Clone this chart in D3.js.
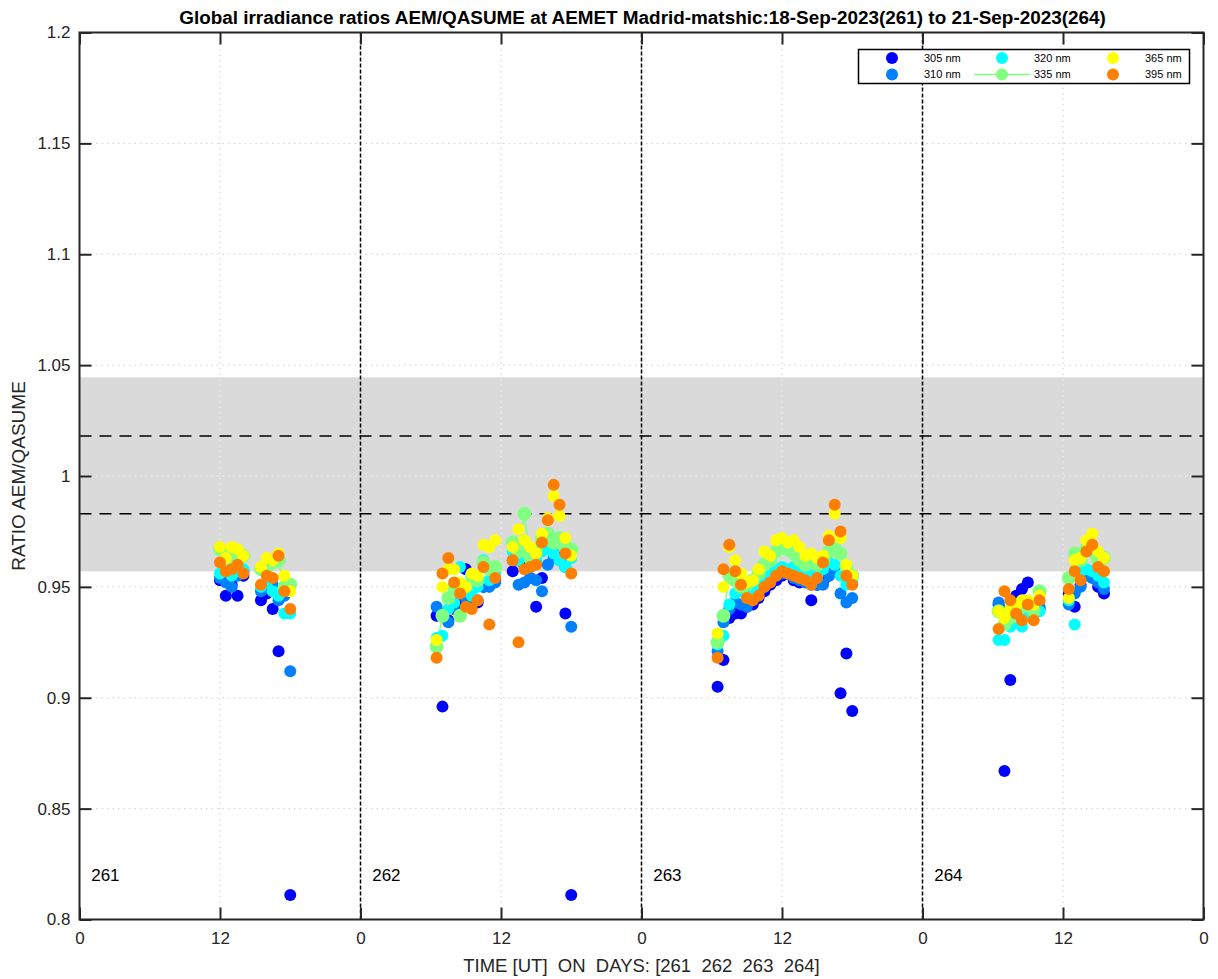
<!DOCTYPE html>
<html>
<head>
<meta charset="utf-8">
<script src="https://cdn.jsdelivr.net/npm/d3@7"></script>
<style>
  body { margin: 0; background: #fff; }
  text { font-family: "Liberation Sans", Arial, sans-serif; }
</style>
</head>
<body>
<div id="chart"></div>
<script>
// day numbers and measurement times (UT hours) of each day
const days = [261, 262, 263, 264]
const t261 = [12.0, 12.5, 13.0, 13.5, 14.0, 15.5, 16.0, 16.5, 17.0, 17.5, 18.0]
const t262 = [6.5, 7.0, 7.5, 8.0, 8.5, 9.0, 9.5, 10.0, 10.5, 11.0, 11.5, 13.0, 13.5, 14.0, 14.5, 15.0, 15.5, 16.0, 16.5, 17.0, 17.5, 18.0]
const t263 = [6.5, 7.0, 7.5, 8.0, 8.5, 9.0, 9.5, 10.0, 10.5, 11.0, 11.5, 12.0, 12.5, 13.0, 13.5, 14.0, 14.5, 15.0, 15.5, 16.0, 16.5, 17.0, 17.5, 18.0]
const t264 = [6.5, 7.0, 7.5, 8.0, 8.5, 9.0, 9.5, 10.0, 12.5, 13.0, 13.5, 14.0, 14.5, 15.0, 15.5]
const times = [t261, t262, t263, t264]

// ratios per wavelength, one list per day
const r305 = [
    [0.953, 0.946, 0.951, 0.946, 0.955, 0.944, 0.947, 0.940, 0.921, 0.948, 0.811],
    [0.937, 0.896, 0.935, 0.940, 0.944, 0.958, 0.942, 0.943, 0.950, 0.951, 0.953, 0.957, 0.962, 0.960, 0.954, 0.941, 0.954, 0.969, 0.965, 0.963, 0.938, 0.811],
    [0.905, 0.917, 0.936, 0.938, 0.938, 0.941, 0.942, 0.945, 0.948, 0.951, 0.953, 0.955, 0.956, 0.953, 0.952, 0.953, 0.944, 0.951, 0.952, 0.955, 0.958, 0.902, 0.920, 0.894],
    [0.942, 0.867, 0.908, 0.946, 0.949, 0.952, 0.941, 0.940, 0.947, 0.941, 0.951, 0.956, 0.955, 0.950, 0.947]
]
const r310 = [
    [0.954, 0.952, 0.950, 0.955, 0.957, 0.948, 0.950, 0.951, 0.944, 0.946, 0.912],
    [0.941, 0.938, 0.934, 0.942, 0.938, 0.945, 0.942, 0.944, 0.950, 0.950, 0.952, 0.962, 0.951, 0.952, 0.954, 0.953, 0.948, 0.960, 0.963, 0.962, 0.959, 0.932],
    [0.921, 0.934, 0.940, 0.943, 0.942, 0.941, 0.944, 0.947, 0.950, 0.953, 0.955, 0.956, 0.957, 0.954, 0.953, 0.952, 0.951, 0.951, 0.951, 0.955, 0.957, 0.947, 0.943, 0.945],
    [0.943, 0.939, 0.937, 0.938, 0.937, 0.940, 0.939, 0.941, 0.942, 0.947, 0.950, 0.955, 0.954, 0.952, 0.949]
]
const r320 = [
    [0.956, 0.958, 0.955, 0.957, 0.958, 0.950, 0.952, 0.948, 0.946, 0.938, 0.938],
    [0.927, 0.928, 0.940, 0.943, 0.959, 0.948, 0.946, 0.950, 0.962, 0.953, 0.956, 0.966, 0.962, 0.964, 0.962, 0.962, 0.966, 0.967, 0.965, 0.962, 0.959, 0.963],
    [0.924, 0.928, 0.942, 0.947, 0.948, 0.946, 0.949, 0.952, 0.954, 0.956, 0.958, 0.959, 0.958, 0.959, 0.957, 0.958, 0.956, 0.957, 0.958, 0.961, 0.960, 0.955, 0.951, 0.952],
    [0.926, 0.926, 0.932, 0.935, 0.932, 0.937, 0.938, 0.939, 0.944, 0.933, 0.957, 0.958, 0.957, 0.955, 0.952]
]
const r335 = [
    [0.967, 0.960, 0.963, 0.962, 0.964, 0.958, 0.959, 0.961, 0.962, 0.950, 0.951],
    [0.923, 0.937, 0.945, 0.950, 0.937, 0.950, 0.955, 0.953, 0.961, 0.958, 0.959, 0.970, 0.966, 0.983, 0.963, 0.967, 0.972, 0.974, 0.970, 0.972, 0.968, 0.967],
    [0.925, 0.937, 0.955, 0.953, 0.950, 0.951, 0.953, 0.956, 0.960, 0.962, 0.966, 0.968, 0.967, 0.965, 0.962, 0.960, 0.961, 0.960, 0.962, 0.966, 0.967, 0.965, 0.959, 0.955],
    [0.939, 0.933, 0.936, 0.940, 0.941, 0.942, 0.939, 0.948, 0.954, 0.965, 0.962, 0.967, 0.966, 0.962, 0.963]
]
const r365 = [
    [0.968, 0.963, 0.968, 0.967, 0.964, 0.959, 0.963, 0.962, 0.965, 0.955, 0.948],
    [0.926, 0.950, 0.958, 0.958, 0.952, 0.950, 0.956, 0.955, 0.969, 0.968, 0.971, 0.968, 0.976, 0.971, 0.968, 0.965, 0.974, 0.981, 0.991, 0.982, 0.972, 0.964],
    [0.929, 0.950, 0.968, 0.962, 0.956, 0.952, 0.953, 0.958, 0.966, 0.964, 0.971, 0.972, 0.970, 0.971, 0.968, 0.964, 0.965, 0.963, 0.964, 0.973, 0.983, 0.972, 0.960, 0.955],
    [0.939, 0.936, 0.940, 0.942, 0.944, 0.944, 0.942, 0.946, 0.945, 0.962, 0.963, 0.971, 0.974, 0.966, 0.963]
]
const r395 = [
    [0.961, 0.957, 0.958, 0.960, 0.956, 0.951, 0.955, 0.954, 0.964, 0.948, 0.940],
    [0.918, 0.956, 0.963, 0.952, 0.947, 0.941, 0.940, 0.944, 0.959, 0.933, 0.954, 0.962, 0.925, 0.958, 0.959, 0.960, 0.970, 0.980, 0.996, 0.987, 0.965, 0.956],
    [0.918, 0.958, 0.969, 0.957, 0.951, 0.945, 0.944, 0.946, 0.950, 0.952, 0.955, 0.957, 0.956, 0.955, 0.954, 0.953, 0.951, 0.954, 0.961, 0.971, 0.987, 0.975, 0.955, 0.951],
    [0.931, 0.948, 0.944, 0.938, 0.935, 0.942, 0.935, 0.944, 0.949, 0.957, 0.953, 0.966, 0.969, 0.959, 0.957]
]

const labels = ["305 nm", "310 nm", "320 nm", "335 nm", "365 nm", "395 nm"]
const ratios = [r305, r310, r320, r335, r365, r395]
const colors = ["#0000ff", "#0080ff", "#00ffff", "#80ff80", "#ffff00", "#ff8000"]

// reference band and dashed limits
const band = [0.957, 1.0445]
const limits = [0.983, 1.018]
const yTicks = [0.8, 0.85, 0.9, 0.95, 1, 1.05, 1.1, 1.15, 1.2]
const xTicks = [0, 12, 24, 36, 48, 60, 72, 84, 96]

const W = 1218, H = 979
const margin = {top: 32.5, right: 14.5, bottom: 59.5, left: 79.5}
const axisColor = "#262626"

const svg = d3.select("#chart").append("svg")
    .attr("width", W)
    .attr("height", H)

const x = d3.scaleLinear().domain([0, 96]).range([margin.left, W - margin.right])
const y = d3.scaleLinear().domain([0.8, 1.2]).range([H - margin.bottom, margin.top])

// grid (dotted)
const grid = svg.append("g")
function drawGrid(g, color) {
    g.selectAll(".gy").data(yTicks.slice(1, -1)).enter().append("line")
        .attr("x1", x(0)).attr("x2", x(96))
        .attr("y1", d => y(d)).attr("y2", d => y(d))
        .style("stroke", color).style("stroke-dasharray", "1.5,4")
    g.selectAll(".gx").data(xTicks.filter(d => d % 24 === 12)).enter().append("line")
        .attr("x1", d => x(d)).attr("x2", d => x(d))
        .attr("y1", y(0.8)).attr("y2", y(1.2))
        .style("stroke", color).style("stroke-dasharray", "1.5,4")
}
drawGrid(grid, "#cfcfcf")

svg.append("rect")
    .attr("x", x(0)).attr("width", x(96) - x(0))
    .attr("y", y(band[1])).attr("height", y(band[0]) - y(band[1]))
    .style("fill", "#dadada")

svg.append("clipPath").attr("id", "bandClip").append("rect")
    .attr("x", x(0)).attr("width", x(96) - x(0))
    .attr("y", y(band[1])).attr("height", y(band[0]) - y(band[1]))
const gridIn = svg.append("g").attr("clip-path", "url(#bandClip)")
drawGrid(gridIn, "#f2f2f2")

svg.selectAll(".limit").data(limits).enter().append("line")
    .attr("x1", x(0)).attr("x2", x(96))
    .attr("y1", d => y(d)).attr("y2", d => y(d))
    .style("stroke", "#000").style("stroke-width", 1.5)
    .style("stroke-dasharray", "12,8")

// day separators
svg.selectAll(".daysep").data([24, 48, 72]).enter().append("line")
    .attr("x1", d => x(d)).attr("x2", d => x(d))
    .attr("y1", y(0.8)).attr("y2", y(1.2))
    .style("stroke", "#000").style("stroke-width", 1.5)
    .style("stroke-dasharray", "4,2")

// data points
const series = ratios.map((r, w) => {
    const pts = []
    days.forEach((day, di) => {
        times[di].forEach((t, i) => pts.push({day: di, t: t, x: di * 24 + t, y: r[di][i]}))
    })
    return {label: labels[w], color: colors[w], points: pts}
})

// 335 nm line, broken where measurements are missing
const line = d3.line()
    .defined(d => d !== null)
    .x(d => x(d.x)).y(d => y(d.y))
days.forEach((day, di) => {
    const pts = series[3].points.filter(p => p.day === di)
    const withGaps = []
    pts.forEach((p, i) => {
        if (i > 0 && p.t - pts[i - 1].t > 1) withGaps.push(null)
        withGaps.push(p)
    })
    svg.append("path")
        .datum(withGaps)
        .attr("d", line)
        .style("fill", "none")
        .style("stroke", colors[3])
        .style("stroke-width", 1.5)
})

series.forEach((s, w) => {
    svg.append("g").selectAll("circle")
        .data(s.points)
        .enter()
        .append("circle")
        .attr("cx", d => x(d.x))
        .attr("cy", d => y(d.y))
        .attr("r", w === 3 ? 7 : 6)
        .style("fill", s.color)
})

// day labels inside the plot
svg.selectAll(".dayLabel").data(days).enter().append("text")
    .attr("x", (d, i) => x(i * 24 + 1))
    .attr("y", y(0.8173))
    .style("font-size", "17px")
    .style("fill", "#000")
    .text(d => d)

// axes
const tick = 12
svg.append("g")
    .attr("transform", "translate(0," + y(0.8) + ")")
    .call(d3.axisBottom(x).tickValues(xTicks).tickSize(-tick).tickSizeOuter(0).tickPadding(12)
        .tickFormat(d => d % 24 === 0 ? "0" : "12"))
svg.append("g")
    .attr("transform", "translate(0," + y(1.2) + ")")
    .call(d3.axisTop(x).tickValues(xTicks).tickSize(-tick).tickSizeOuter(0).tickFormat(""))
svg.append("g")
    .attr("transform", "translate(" + x(0) + ",0)")
    .call(d3.axisLeft(y).tickValues(yTicks).tickSize(-tick).tickSizeOuter(0).tickPadding(9)
        .tickFormat(d => d3.format("")(+d.toFixed(2))))
svg.append("g")
    .attr("transform", "translate(" + x(96) + ",0)")
    .call(d3.axisRight(y).tickValues(yTicks).tickSize(-tick).tickSizeOuter(0).tickFormat(""))

svg.selectAll(".domain").remove()
svg.selectAll(".tick line").style("stroke", axisColor).style("stroke-width", 2)
svg.selectAll(".tick text")
    .style("font-size", "17px")
    .style("font-family", "'Liberation Sans', Arial, sans-serif")
    .style("fill", axisColor)

svg.append("rect")
    .attr("x", x(0)).attr("y", y(1.2))
    .attr("width", x(96) - x(0)).attr("height", y(0.8) - y(1.2))
    .style("fill", "none").style("stroke", axisColor).style("stroke-width", 2)

// titles
svg.append("text")
    .attr("x", (x(0) + x(96)) / 2 + 1).attr("y", 24)
    .style("text-anchor", "middle")
    .style("font-size", "18.9px").style("font-weight", "bold")
    .text("Global irradiance ratios AEM/QASUME at AEMET Madrid-matshic:18-Sep-2023(261) to 21-Sep-2023(264)")

svg.append("text")
    .attr("x", (x(0) + x(96)) / 2).attr("y", 972)
    .attr("xml:space", "preserve")
    .style("text-anchor", "middle")
    .style("font-size", "18.5px").style("fill", axisColor)
    .style("white-space", "pre")
    .text("TIME [UT]  ON  DAYS: [261  262  263  264]")

svg.append("text")
    .attr("transform", "translate(25," + (y(1.2) + y(0.8)) / 2 + ") rotate(-90)")
    .style("text-anchor", "middle")
    .style("font-size", "19px").style("fill", axisColor)
    .text("RATIO AEM/QASUME")

// legend
const legend = svg.append("g")
legend.append("rect")
    .attr("x", 858.5).attr("y", 49.5).attr("width", 331).attr("height", 34)
    .style("fill", "#fff").style("stroke", "#000").style("stroke-width", 1.5)
const colX = [892, 1002, 1113]
const rowY = [58, 74.5]
const items = legend.selectAll(".item").data(series).enter().append("g")
    .attr("transform", (d, i) => "translate(" + colX[Math.floor(i / 2)] + "," + rowY[i % 2] + ")")
items.filter((d, i) => i === 3).append("line")
    .attr("x1", -28).attr("x2", 28)
    .style("stroke", colors[3]).style("stroke-width", 1.5)
items.append("circle")
    .attr("r", 6)
    .style("fill", d => d.color)
items.append("text")
    .attr("x", 32).attr("dy", "0.35em")
    .style("font-size", "11px").style("fill", "#000")
    .text(d => d.label)
</script>
</body>
</html>
